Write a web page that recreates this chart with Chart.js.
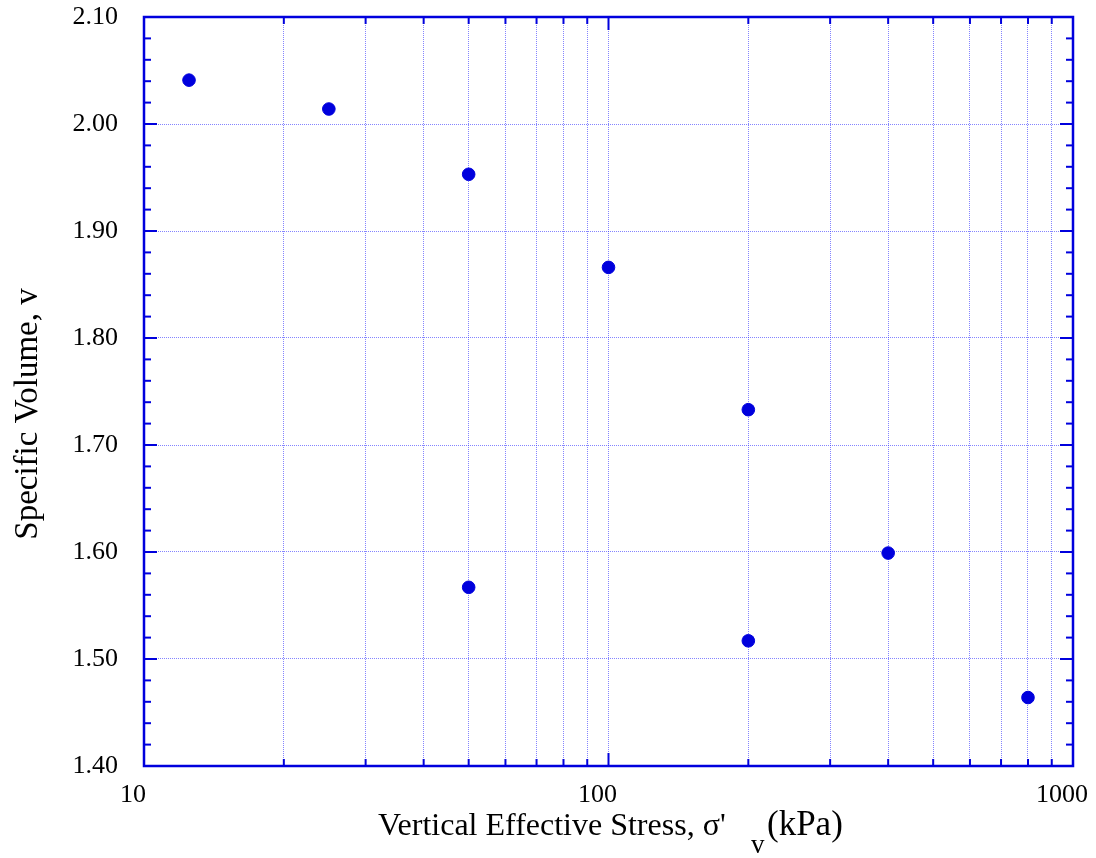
<!DOCTYPE html>
<html>
<head>
<meta charset="utf-8">
<script src="https://cdn.jsdelivr.net/npm/chart.js@4"></script>
<style>
    html, body { margin: 0; padding: 0; background: #ffffff; }
    #wrap { width: 1096px; height: 858px; position: relative; }
</style>
</head>
<body>
<div id="wrap"><canvas id="chart"></canvas></div>
<script>
(() => {
    const stress = [12.5, 25, 50, 100, 200, 400, 800, 200, 50];
    const specificVolume = [2.041, 2.014, 1.953, 1.866, 1.733, 1.599, 1.464, 1.517, 1.567];
    const xTickLabels = [10, 100, 1000];
    const yMin = 1.4;
    const yMax = 2.1;

    const blue = "#0000dd";
    const gridBlue = "rgba(50, 50, 255, 0.6)";
    const serif = '"Liberation Serif", "Times New Roman", serif';

    // every log grid position between 10 and 1000 (1..9 x decade)
    const xGridValues = [];
    for (let decade = 10; decade < 1000; decade *= 10) {
        for (let m = 1; m < 10; m++) xGridValues.push(m * decade);
    }
    xGridValues.push(1000);

    const line = (ctx, x1, y1, x2, y2) => {
        ctx.beginPath();
        ctx.moveTo(x1, y1);
        ctx.lineTo(x2, y2);
        ctx.stroke();
    };

    const framePlugin = {
        id: "frame",
        afterDraw(chart) {
            const { ctx, chartArea: a, scales } = chart;
            const { x, y } = scales;
            ctx.save();
            ctx.strokeStyle = blue;

            // inside ticks
            ctx.lineWidth = 2;
            for (let i = 0; i <= 35; i++) {
                const py = y.getPixelForValue(yMin + i * 0.02);
                const len = i % 5 === 0 ? 13 : 7;
                line(ctx, a.left, py, a.left + len, py);
                line(ctx, a.right, py, a.right - len, py);
            }
            xGridValues.forEach((v) => {
                const px = x.getPixelForValue(v);
                const len = xTickLabels.includes(v) ? 13 : 7;
                line(ctx, px, a.bottom, px, a.bottom - len);
                line(ctx, px, a.top, px, a.top + len);
            });

            ctx.lineWidth = 2.5;
            ctx.strokeRect(a.left, a.top, a.right - a.left, a.bottom - a.top);

            // axis titles
            ctx.fillStyle = "#000000";
            ctx.textBaseline = "alphabetic";
            ctx.textAlign = "left";
            ctx.font = "32px " + serif;
            ctx.fillText("Vertical Effective Stress, \u03c3'", 378, 835);
            ctx.font = "27px " + serif;
            ctx.fillText("v", 751, 853);
            ctx.font = "35px " + serif;
            ctx.fillText("(kPa)", 767, 835);

            ctx.translate(37, 414);
            ctx.rotate(-Math.PI / 2);
            ctx.textAlign = "center";
            ctx.font = "33px " + serif;
            ctx.fillText("Specific Volume, v", 0, 0);
            ctx.restore();
        },
    };

    const gridStyle = {
        color: gridBlue,
        lineWidth: 1,
        drawTicks: false,
        tickLength: 0,
    };

    new Chart(document.getElementById("chart"), {
        type: "scatter",
        data: {
            datasets: [
                {
                    data: stress.map((s, i) => ({ x: s, y: specificVolume[i] })),
                    backgroundColor: blue,
                    borderColor: blue,
                    pointRadius: 6.3,
                    pointHoverRadius: 6.3,
                },
            ],
        },
        options: {
            responsive: true,
            maintainAspectRatio: false,
            animation: false,
            layout: { padding: { top: 17, right: 23, left: 0, bottom: 0 } },
            plugins: {
                legend: { display: false },
                tooltip: { enabled: false },
            },
            scales: {
                x: {
                    type: "logarithmic",
                    min: 10,
                    max: 1000,
                    afterBuildTicks(scale) {
                        scale.ticks = xGridValues.map((v) => ({ value: v }));
                    },
                    afterFit(scale) {
                        scale.height = 92;
                        scale.paddingLeft = 0;
                        scale.paddingRight = 0;
                    },
                    grid: { ...gridStyle },
                    border: { display: false, dash: [1, 1] },
                    ticks: {
                        autoSkip: false,
                        maxRotation: 0,
                        padding: 14,
                        labelOffset: -11,
                        color: "#000000",
                        font: { family: serif, size: 26 },
                        callback: (value) => (xTickLabels.includes(value) ? String(value) : ""),
                    },
                },
                y: {
                    min: yMin,
                    max: yMax,
                    afterFit(scale) {
                        scale.width = 144;
                        scale.paddingTop = 0;
                        scale.paddingBottom = 0;
                    },
                    grid: gridStyle,
                    border: { display: false, dash: [1, 1] },
                    ticks: {
                        stepSize: 0.1,
                        padding: 26,
                        color: "#000000",
                        font: { family: serif, size: 26 },
                        callback: (value) => Number(value).toFixed(2),
                    },
                },
            },
        },
        plugins: [framePlugin],
    });
})();
</script>
</body>
</html>
